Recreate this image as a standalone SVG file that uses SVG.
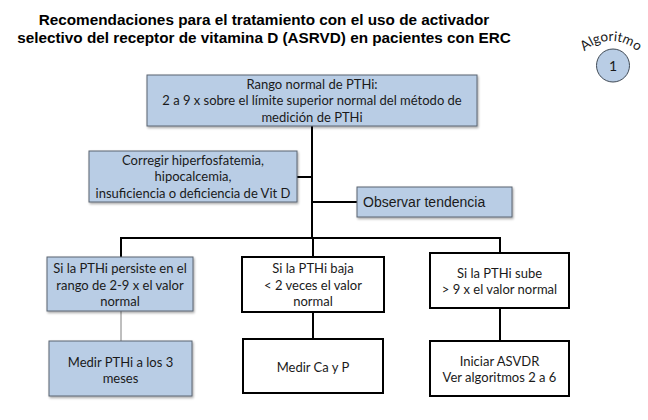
<svg xmlns="http://www.w3.org/2000/svg" width="648" height="420" viewBox="0 0 648 420">
<defs>
<filter id="sh" x="-10%" y="-10%" width="120%" height="130%">
<feDropShadow dx="1" dy="1.5" stdDeviation="0.8" flood-color="#000" flood-opacity="0.35"/>
</filter>
<path id="arc" d="M 572.6 86.8 A 39 39 0 1 1 649.4 86.8"/>
</defs>
<style>
.title{font-family:"Liberation Sans",Arial,sans-serif;font-weight:bold;font-size:15.3px;fill:#000;text-anchor:middle}
.blue{fill:#b9cde5;stroke:#5a6470;stroke-width:1;filter:url(#sh)}
.white{fill:#fff;stroke:#000;stroke-width:2}
.t{font-family:Lato,"Noto Sans",sans-serif;font-size:13px;fill:#1a1a1a;text-anchor:middle}
.ta{font-family:"Liberation Sans",Arial,sans-serif;font-size:14px;fill:#1a1a1a}
.c{fill:none;stroke:#000;stroke-width:2}
.cg{fill:none;stroke:#7f7f7f;stroke-width:1}
</style>
<rect width="648" height="420" fill="#fff"/>
<text class="title" x="264" y="25">Recomendaciones para el tratamiento con el uso de activador</text>
<text class="title" x="264" y="43">selectivo del receptor de vitamina D (ASRVD) en pacientes con ERC</text>
<g id="algoritmo">
<circle cx="613" cy="65.5" r="16.5" fill="#b9cde5" stroke="#404a55" stroke-width="1"/>
<text class="t" x="613" y="70.5" style="font-size:14px">1</text>
<text class="t" style="font-size:13.5px"><textPath href="#arc" startOffset="50%">Algoritmo</textPath></text>
</g>
<g id="connectors">
<path class="c" d="M312 126 V238"/>
<path class="c" d="M297 177 H312"/>
<path class="c" d="M312 202 H357"/>
<path class="c" d="M121 257 V238 H500 V253"/>
<path class="c" d="M313 238 V257"/>
<path class="cg" d="M121 311 V341"/>
<path class="c" d="M313 312 V339"/>
<path class="c" d="M500 308 V341"/>
</g>
<g id="n-rango">
<rect class="blue" x="147" y="75" width="330" height="51"/>
<text class="t" x="312" y="88.5">Rango normal de PTHi:</text>
<text class="t" x="312" y="105">2 a 9 x sobre el límite superior normal del método de</text>
<text class="t" x="312" y="121.5">medición de PTHi</text>
</g>
<g id="n-corregir">
<rect class="blue" x="89" y="151" width="208" height="51"/>
<text class="t" x="193" y="164.5">Corregir hiperfosfatemia,</text>
<text class="t" x="193" y="181">hipocalcemia,</text>
<text class="t" x="193" y="197.5">insuficiencia o deficiencia de Vit D</text>
</g>
<g id="n-observar">
<rect class="blue" x="357" y="187" width="155" height="30"/>
<text class="ta" x="363" y="207">Observar tendencia</text>
</g>
<g id="n-persiste">
<rect class="blue" x="47" y="257" width="146" height="54"/>
<text class="t" x="120" y="272.5">Si la PTHi persiste en el</text>
<text class="t" x="120" y="289.5">rango de 2-9 x el valor</text>
<text class="t" x="120" y="305.5">normal</text>
</g>
<g id="n-baja">
<rect class="white" x="242" y="257" width="142" height="55"/>
<text class="t" x="313" y="272.5">Si la PTHi baja</text>
<text class="t" x="313" y="289.5">&lt; 2 veces el valor</text>
<text class="t" x="313" y="305.5">normal</text>
</g>
<g id="n-sube">
<rect class="white" x="430" y="253" width="139" height="55"/>
<text class="t" x="499.5" y="277.5">Si la PTHi sube</text>
<text class="t" x="499.5" y="293.5">&gt; 9 x el valor normal</text>
</g>
<g id="n-medir-pthi">
<rect class="blue" x="49" y="341" width="143" height="55"/>
<text class="t" x="120.5" y="366.5">Medir PTHi a los 3</text>
<text class="t" x="120.5" y="382.5">meses</text>
</g>
<g id="n-medir-ca">
<rect class="white" x="243" y="339" width="140" height="54"/>
<text class="t" x="313" y="371.5">Medir Ca y P</text>
</g>
<g id="n-iniciar">
<rect class="white" x="430" y="341" width="139" height="55"/>
<text class="t" x="499.5" y="365.5">Iniciar ASVDR</text>
<text class="t" x="499.5" y="381.5">Ver algoritmos 2 a 6</text>
</g>
</svg>
